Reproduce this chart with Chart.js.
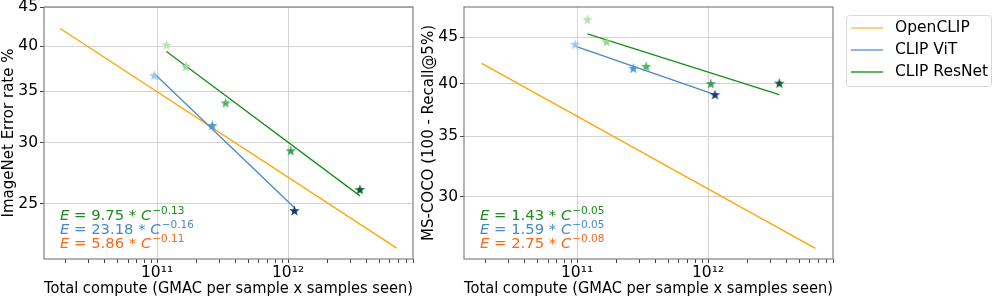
<!DOCTYPE html>
<html>
<head>
<meta charset="utf-8">
<script src="https://cdn.jsdelivr.net/npm/chart.js@4"></script>
<style>
  body { margin: 0; background: #fff; }
  #wrap { position: relative; width: 997px; height: 299px; }
  #wrap canvas { position: absolute; top: 0; }
</style>
</head>
<body>
<div id="wrap">
  <canvas id="left" width="420" height="299" style="left:0"></canvas>
  <canvas id="right" width="577" height="299" style="left:420px"></canvas>
</div>
<script>
// ---- data ----
const seriesNames = ['OpenCLIP', 'CLIP ViT', 'CLIP ResNet'];

// ImageNet panel
const inVitX = [9.5e10, 2.64e11, 1.12e12];
const inVitY = [36.7, 31.6, 24.5];
const inResX = [1.18e11, 1.66e11, 3.34e11, 1.05e12, 3.54e12];
const inResY = [40.2, 37.7, 33.8, 29.3, 26.1];
const inOpenFitX = [1.82e10, 6.76e12];
const inOpenFitY = [42.2, 21.9];
const inVitFitX = [9.5e10, 1.12e12];
const inVitFitY = [36.9, 24.7];
const inResFitX = [1.18e11, 3.54e12];
const inResFitY = [39.4, 25.6];
const inEquations = [['9.75', '\u22120.13'], ['23.18', '\u22120.16'], ['5.86', '\u22120.11']];

// MS-COCO panel
const cocoVitX = [9.66e10, 2.69e11, 1.13e12];
const cocoVitY = [44.2, 41.6, 38.9];
const cocoResX = [1.2e11, 1.68e11, 3.37e11, 1.05e12, 3.5e12];
const cocoResY = [47.1, 44.5, 41.8, 40.0, 40.05];
const cocoOpenFitX = [1.87e10, 6.6e12];
const cocoOpenFitY = [42.1, 26.3];
const cocoVitFitX = [9.66e10, 1.13e12];
const cocoVitFitY = [44.0, 38.9];
const cocoResFitX = [1.2e11, 3.5e12];
const cocoResFitY = [45.4, 38.9];
const cocoEquations = [['1.43', '\u22120.05'], ['1.59', '\u22120.05'], ['2.75', '\u22120.08']];

// axes
const xMajorTicks = [1e11, 1e12];
const xTickLabels = ['10\u00b9\u00b9', '10\u00b9\u00b2'];
const inYTicks = [25, 30, 35, 40, 45];
const cocoYTicks = [30, 35, 40, 45];

// ---- styles ----
const FONT = "'DejaVu Sans'";
const lineColors = ['#ffa500', '#4a88c4', '#1a8c1a'];
const legendColors = ['#ffc45c', '#6a9fd4', '#2f9a2f'];
const eqColors = ['#1a8c1a', '#4a88c4', '#f5691a'];
const vitStarColors = ['#9ec8ea', '#4a98d4', '#123a78'];
const resStarColors = ['#b5e3ae', '#9ad694', '#4db361', '#3c9c58', '#0b5a2c'];

const xMinorTicks = [];
[1e10, 1e11, 1e12].forEach(d => { for (let k = 2; k <= 9; k++) xMinorTicks.push(k * d); });
const xAllTicks = xMinorTicks.concat(xMajorTicks).sort((a, b) => a - b);

function majorIndex(v) {
    return xMajorTicks.findIndex(m => Math.abs(m - v) / m < 1e-6);
}

function starImage(color) {
    const r = 5.5;
    const c = document.createElement('canvas');
    c.width = c.height = 13;
    const g = c.getContext('2d');
    g.beginPath();
    for (let i = 0; i < 10; i++) {
        const rad = i % 2 === 0 ? r : r * 0.4;
        const a = -Math.PI / 2 + i * Math.PI / 5;
        g.lineTo(6.5 + rad * Math.cos(a), 7 + rad * Math.sin(a));
    }
    g.closePath();
    g.fillStyle = color;
    g.fill();
    return c;
}

function pts(xs, ys) {
    return xs.map((x, i) => ({ x: x, y: ys[i] }));
}

const framePlugin = {
    id: 'frame',
    afterDraw(chart, args, opts) {
        const { ctx, chartArea: a } = chart;
        ctx.save();
        ctx.strokeStyle = '#808080';
        ctx.lineWidth = 1.2;
        ctx.strokeRect(a.left, a.top, a.right - a.left, a.bottom - a.top);

        // fitted power laws
        let y = a.bottom - 39;
        opts.equations.forEach((eq, i) => {
            let x = a.left + 16;
            ctx.fillStyle = eqColors[i];
            ctx.textBaseline = 'alphabetic';
            ctx.textAlign = 'left';
            ctx.font = 'italic 14.8px ' + FONT;
            ctx.fillText('E', x, y);
            x += ctx.measureText('E').width;
            ctx.font = '14.8px ' + FONT;
            const mid = ' = ' + eq[0] + ' * ';
            ctx.fillText(mid, x, y);
            x += ctx.measureText(mid).width;
            ctx.font = 'italic 14.8px ' + FONT;
            ctx.fillText('C', x, y);
            x += ctx.measureText('C').width + 1;
            ctx.font = '10.5px ' + FONT;
            ctx.fillText(eq[1], x, y - 6);
            y += 14.2;
        });

        // legend box, only on the panel that asks for it
        if (opts.legendAt) {
            const [lx, ly] = opts.legendAt;
            ctx.beginPath();
            ctx.roundRect(lx + 0.5, ly + 0.5, 145, 71, 3);
            ctx.fillStyle = 'rgba(255,255,255,0.8)';
            ctx.fill();
            ctx.strokeStyle = '#d9d9d9';
            ctx.lineWidth = 1;
            ctx.stroke();
            ctx.font = '15.5px ' + FONT;
            ctx.textBaseline = 'middle';
            seriesNames.forEach((name, i) => {
                const cy = ly + 13 + i * 22;
                ctx.strokeStyle = legendColors[i];
                ctx.lineWidth = 1.5;
                ctx.beginPath();
                ctx.moveTo(lx + 5, cy);
                ctx.lineTo(lx + 37, cy);
                ctx.stroke();
                ctx.fillStyle = '#000';
                ctx.fillText(name, lx + 49, cy);
            });
        }
        ctx.restore();
    }
};

function makeChart(id, yTitle, yMin, yMax, yTicks, sets, equations, padRight, legendAt) {
    const [vitX, vitY, resX, resY, oX, oY, vX, vY, rX, rY] = sets;
    return new Chart(document.getElementById(id), {
        type: 'scatter',
        data: {
            datasets: [
                { data: pts(resX, resY), pointStyle: resStarColors.map(starImage), pointRadius: 6 },
                { data: pts(vitX, vitY), pointStyle: vitStarColors.map(starImage), pointRadius: 6 },
                { data: pts(rX, rY), showLine: true, borderColor: lineColors[2], borderWidth: 1.3, pointRadius: 0 },
                { data: pts(vX, vY), showLine: true, borderColor: lineColors[1], borderWidth: 1.3, pointRadius: 0 },
                { data: pts(oX, oY), showLine: true, borderColor: lineColors[0], borderWidth: 1.3, pointRadius: 0 }
            ]
        },
        options: {
            responsive: false,
            animation: false,
            devicePixelRatio: 1,
            layout: { padding: { top: 7, right: padRight, left: 0, bottom: 0 } },
            plugins: {
                legend: { display: false },
                tooltip: { enabled: false },
                frame: { equations: equations, legendAt: legendAt }
            },
            scales: {
                x: {
                    type: 'logarithmic',
                    min: 1.37e10,
                    max: 9e12,
                    afterBuildTicks: s => { s.ticks = xAllTicks.map(v => ({ value: v })); },
                    afterFit: s => { s.height = 40; s.paddingLeft = 0; s.paddingRight = 0; },
                    ticks: {
                        autoSkip: false,
                        maxRotation: 0,
                        padding: 1,
                        color: '#000',
                        font: { family: FONT, size: 15.5 },
                        callback: v => majorIndex(v) >= 0 ? xTickLabels[majorIndex(v)] : ''
                    },
                    grid: {
                        color: c => (c.tick && majorIndex(c.tick.value) >= 0) ? '#d3d3d3' : 'rgba(0,0,0,0)',
                        tickColor: '#444',
                        tickLength: 4
                    },
                    border: { display: false },
                    title: {
                        display: true,
                        text: 'Total compute (GMAC per sample x samples seen)',
                        color: '#000',
                        font: { family: FONT, size: 15 },
                        padding: { top: 0, bottom: 1 }
                    }
                },
                y: {
                    type: 'logarithmic',
                    min: yMin,
                    max: yMax,
                    afterBuildTicks: s => { s.ticks = yTicks.map(v => ({ value: v })); },
                    afterFit: s => { s.width = 44; s.paddingTop = 0; s.paddingBottom = 0; },
                    ticks: {
                        autoSkip: false,
                        padding: 2,
                        color: '#000',
                        font: { family: FONT, size: 15.5 },
                        callback: v => String(v)
                    },
                    grid: { color: '#d3d3d3', tickColor: '#444', tickLength: 4 },
                    border: { display: false },
                    title: {
                        display: true,
                        text: yTitle,
                        color: '#000',
                        font: { family: FONT, size: 15 },
                        padding: { top: 0, bottom: 0 }
                    }
                }
            }
        },
        plugins: [framePlugin]
    });
}

makeChart('left', 'ImageNet Error rate %', 21.2, 45, inYTicks,
    [inVitX, inVitY, inResX, inResY, inOpenFitX, inOpenFitY, inVitFitX, inVitFitY, inResFitX, inResFitY],
    inEquations, 7, null);
makeChart('right', 'MS-COCO (100 - Recall@5%)', 25.6, 48.6, cocoYTicks,
    [cocoVitX, cocoVitY, cocoResX, cocoResY, cocoOpenFitX, cocoOpenFitY, cocoVitFitX, cocoVitFitY, cocoResFitX, cocoResFitY],
    cocoEquations, 164, [426, 15]);
</script>
</body>
</html>
